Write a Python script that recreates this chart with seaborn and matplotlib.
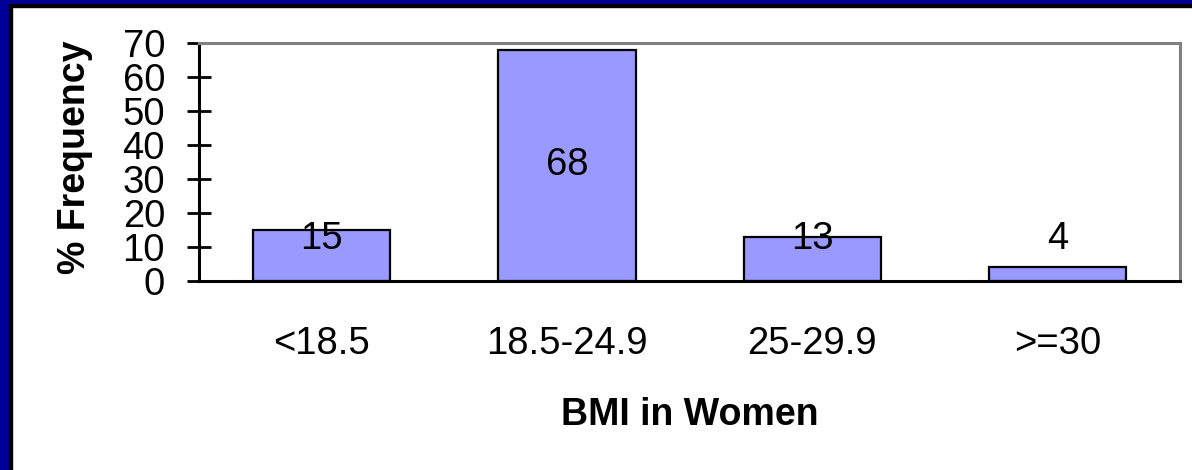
import matplotlib
matplotlib.use("Agg")
import matplotlib.pyplot as plt
from matplotlib.patches import Rectangle
import seaborn as sns
import pandas as pd

# BMI categories and the share of women in each
categories = ["<18.5", "18.5-24.9", "25-29.9", ">=30"]
frequency = [15, 68, 13, 4]
y_ticks = [0, 10, 20, 30, 40, 50, 60, 70]

df = pd.DataFrame({"bmi": categories, "freq": frequency})

sns.set_theme(style="white")
plt.rcParams["font.family"] = ["Liberation Sans", "DejaVu Sans"]
plt.rcParams.update({"text.color": "black", "axes.labelcolor": "black",
                     "xtick.color": "black", "ytick.color": "black"})

fig = plt.figure(figsize=(11.92, 4.70), dpi=100)
fig.patch.set_facecolor("white")
ax = fig.add_axes([0.167, 0.402, 0.823, 0.5065])

sns.barplot(data=df, x="bmi", y="freq", order=categories, color="#9999FF",
            saturation=1, edgecolor="black", linewidth=1.6, width=0.56, ax=ax)

ax.set_ylim(0, 70)
ax.set_yticks(y_ticks)
ax.set_xlim(-0.5, len(categories) - 0.5)

# value labels: centred in the bar, lifted clear of the axis for short bars
for i, v in enumerate(frequency):
    ax.text(i, max(v / 2, 12.3), str(v), ha="center", va="center",
            fontsize=27.5, color="black")

ax.tick_params(axis="y", direction="inout", length=17, width=2.0,
               labelsize=27.5, pad=16, color="black", labelcolor="black", left=True)
ax.tick_params(axis="x", length=0, labelsize=27.5, pad=32, labelcolor="black")

for side in ("left", "bottom"):
    ax.spines[side].set_color("black")
    ax.spines[side].set_linewidth(2.2)
for side in ("top", "right"):
    ax.spines[side].set_color("#808080")
    ax.spines[side].set_linewidth(2.2)

ax.set_xlabel("BMI in Women", fontsize=27, fontweight="bold", color="black")
ax.set_ylabel("% Frequency", fontsize=27, fontweight="bold", color="black")
ax.xaxis.set_label_coords(0.5, -0.487)
ax.yaxis.set_label_coords(-0.108, 0.519)

# slide frame along the top and left edges
W, H = 1192, 470
fig.patches.extend([
    Rectangle((0, 0), 9 / W, 1, transform=fig.transFigure, color="#000099", zorder=10),
    Rectangle((9 / W, 0), 3 / W, 1 - 4 / H, transform=fig.transFigure, color="black", zorder=10),
    Rectangle((0, 1 - 4 / H), 1, 4 / H, transform=fig.transFigure, color="#000099", zorder=10),
    Rectangle((9 / W, 1 - 7 / H), 1, 3 / H, transform=fig.transFigure, color="black", zorder=10),
])

fig.savefig("out.png", dpi=100, facecolor="white")
